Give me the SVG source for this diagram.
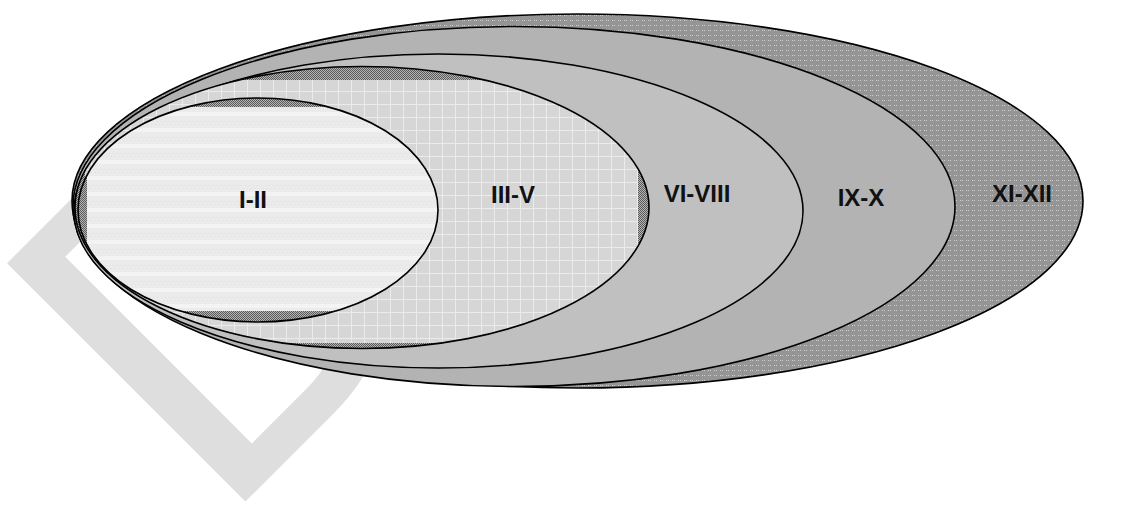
<svg xmlns="http://www.w3.org/2000/svg" width="1126" height="506" viewBox="0 0 1126 506">
  <defs>
    <pattern id="pDots" width="6" height="5" patternUnits="userSpaceOnUse">
      <rect width="6" height="5" fill="#959595"/>
      <rect x="0" y="0" width="1" height="1" fill="#cfcfcf"/>
      <rect x="2" y="0" width="1" height="1" fill="#cfcfcf"/>
    </pattern>
    <pattern id="pGrid" width="13" height="13" patternUnits="userSpaceOnUse">
      <rect width="13" height="13" fill="#d6d6d6"/>
      <rect x="0" y="0" width="1" height="13" fill="#ebebeb"/>
      <rect x="0" y="0" width="13" height="1" fill="#ebebeb"/>
    </pattern>
    <pattern id="pStripes" width="4" height="16" patternUnits="userSpaceOnUse">
      <rect width="4" height="16" fill="#ebebeb"/>
      <rect x="0" y="0" width="4" height="4" fill="#f3f3f3"/>
      <rect x="1" y="9" width="1" height="1" fill="#dddddd"/>
      <rect x="3" y="12" width="1" height="1" fill="#dddddd"/>
    </pattern>
    <pattern id="pDark" width="2" height="2" patternUnits="userSpaceOnUse">
      <rect width="2" height="2" fill="#b4b4b4"/>
      <rect x="0" y="0" width="1" height="1" fill="#5a5a5a"/>
      <rect x="1" y="1" width="1" height="1" fill="#5a5a5a"/>
    </pattern>
    <clipPath id="clipI">
      <rect x="87" y="107" width="400" height="204"/>
    </clipPath>
    <clipPath id="clipIII">
      <rect x="85" y="80" width="553" height="263"/>
    </clipPath>
  </defs>
  <style>
    .edge { fill: none; stroke: #000; stroke-width: 1.6; }
    .lbl { font-family: "Liberation Sans", Arial, sans-serif; font-weight: bold; font-size: 24px; fill: #111; text-anchor: middle; }
    .wm { font-family: "Liberation Sans", Arial, sans-serif; font-size: 490px; fill: #dedede; }
  </style>
  <rect width="1126" height="506" fill="#ffffff"/>
  <g id="watermark">
    <text class="wm" transform="translate(217,530) rotate(-45)">D</text>
  </g>
  <g id="node-xi-xii">
    <ellipse cx="577.5" cy="201" rx="505.5" ry="187" fill="url(#pDots)"/>
    <ellipse class="edge" cx="577.5" cy="201" rx="505.5" ry="187"/>
    <text class="lbl" x="1022" y="202">XI-XII</text>
  </g>
  <g id="node-ix-x">
    <ellipse cx="514" cy="206.5" rx="441" ry="180" fill="#b3b3b3"/>
    <ellipse class="edge" cx="514" cy="206.5" rx="441" ry="180"/>
    <text class="lbl" x="861" y="206">IX-X</text>
  </g>
  <g id="node-vi-viii">
    <ellipse cx="438.5" cy="211" rx="364.5" ry="157" fill="#c0c0c0"/>
    <ellipse class="edge" cx="438.5" cy="211" rx="364.5" ry="157"/>
    <text class="lbl" x="697" y="202">VI-VIII</text>
  </g>
  <g id="node-iii-v">
    <ellipse cx="362" cy="207.5" rx="287" ry="141" fill="url(#pDark)"/>
    <ellipse cx="362" cy="207.5" rx="287" ry="141" fill="url(#pGrid)" clip-path="url(#clipIII)"/>
    <ellipse class="edge" cx="362" cy="207.5" rx="287" ry="141"/>
    <text class="lbl" x="513" y="203">III-V</text>
  </g>
  <g id="node-i-ii">
    <ellipse cx="258" cy="210" rx="180" ry="112" fill="url(#pDark)"/>
    <ellipse cx="258" cy="210" rx="180" ry="112" fill="url(#pStripes)" clip-path="url(#clipI)"/>
    <ellipse class="edge" cx="258" cy="210" rx="180" ry="112"/>
    <text class="lbl" x="253" y="208">I-II</text>
  </g>
</svg>
